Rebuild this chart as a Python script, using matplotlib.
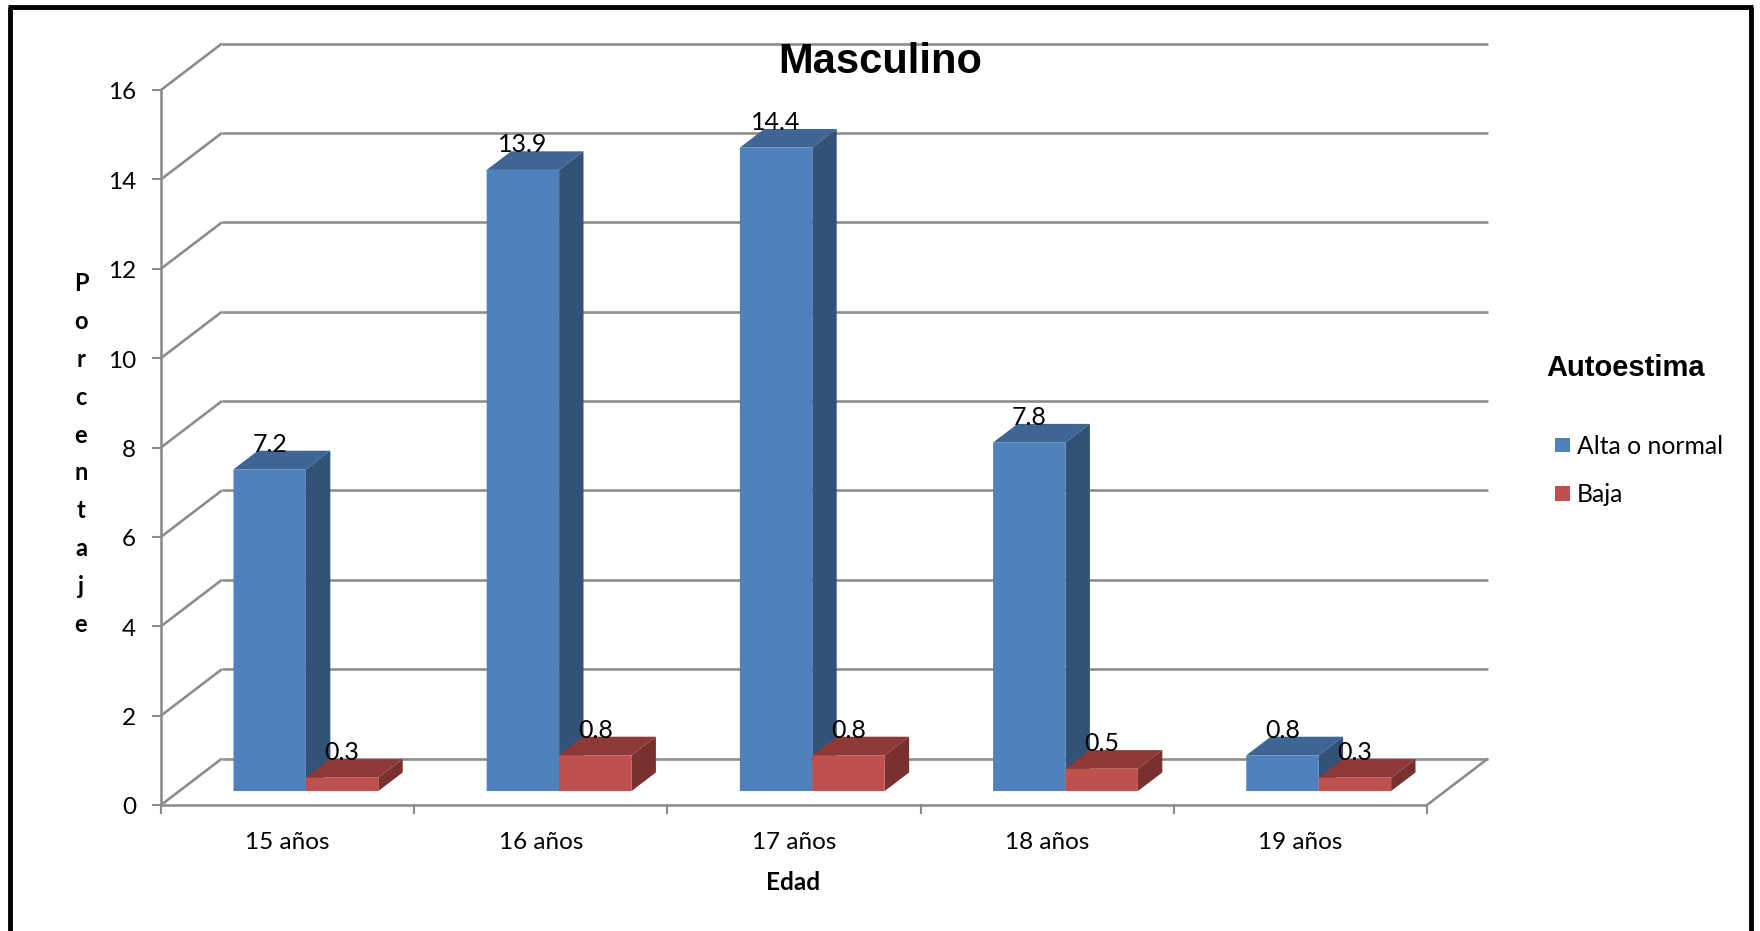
import matplotlib
matplotlib.use('Agg')
import matplotlib.pyplot as plt
from matplotlib.patches import Polygon, Rectangle

categories = ['15 años', '16 años', '17 años', '18 años', '19 años']
alta = [7.2, 13.9, 14.4, 7.8, 0.8]
baja = [0.3, 0.8, 0.8, 0.5, 0.3]
series_names = ['Alta o normal', 'Baja']
y_ticks = [0, 2, 4, 6, 8, 10, 12, 14, 16]

W, H = 1760, 931
GRAY = '#8c8c8c'
BLUE = ('#4f81bd', '#3e6593', '#325278')
RED = ('#c0504d', '#8e3937', '#7a302e')

plt.rcParams['font.family'] = ['Lato', 'DejaVu Sans']

fig = plt.figure(figsize=(W / 100, H / 100), dpi=100)
# axes box = front plane of the 3d chart, in reference pixels
ax = fig.add_axes([161 / W, 1 - 805 / H, (1427 - 161) / W, (805 - 90) / H])
ax.set_xlim(0, 5)
ax.set_ylim(0, 16)
ax.axis('off')

# oblique depth: whole wall depth expressed in data units
DX = 61 / 253.2
DY = 46.5 / 44.7


def pr(x, y, z):
    return x + z * DX, y + z * DY


def line(p, q, lw=2.6):
    ax.plot([p[0], q[0]], [p[1], q[1]], color=GRAY, lw=lw * 0.72,
            clip_on=False, solid_capstyle='butt', zorder=1)


def fx(px):
    return px / W


def fy(py):
    return 1 - py / H


for v in y_ticks:
    line(pr(0, v, 1), pr(5, v, 1))
    line(pr(0, v, 0), pr(0, v, 1))
    ax.plot([-8 / 253.2, 0], [v, v], color=GRAY, lw=1.5, clip_on=False)
    ax.text(-25 / 253.2, v - 3 / 44.7, str(v), ha='right', va='center', fontsize=17.5, color='black')

line((0, 0), (0, 16))
line((0, 0), (5, 0))
line(pr(5, 0, 0), pr(5, 0, 1))
for i in range(6):
    ax.plot([i, i], [0, -8 / 44.7], color=GRAY, lw=1.5, clip_on=False)


def bar3d(x0, w, v, cols):
    z0, z1 = 0.3, 0.7
    x1 = x0 + w
    # top and side first, the front face goes over their seam
    faces = [
        ([pr(x0, v, z0), pr(x1, v, z0), pr(x1, v, z1), pr(x0, v, z1)], cols[1]),
        ([pr(x1, 0, z0), pr(x1, 0, z1), pr(x1, v, z1), pr(x1, v, z0)], cols[2]),
        ([pr(x0, 0, z0), pr(x1, 0, z0), pr(x1, v, z0), pr(x0, v, z0)], cols[0]),
    ]
    for pts, c in faces:
        ax.add_patch(Polygon(pts, closed=True, facecolor=c, edgecolor='none', lw=0,
                             clip_on=False, zorder=2, snap=False))


bw = 0.286
for i, cat in enumerate(categories):
    x0 = i + 0.214
    bar3d(x0, bw, alta[i], BLUE)
    bar3d(x0 + bw, bw, baja[i], RED)
    ax.text(i + 0.5, -38 / 44.7, cat, ha='center', va='center', fontsize=17.5)

# data labels sit on the back edge of each bar top
for i in range(len(categories)):
    for off, v in ((0, alta[i]), (1, baja[i])):
        xc = pr(i + 0.214 + bw * off + bw / 2, 0, 0.3)[0]
        yb = pr(0, v, 0.7)[1] - 1 / 44.7
        ax.text(xc, yb, f'{v:.1f}', ha='center', va='baseline', fontsize=18, zorder=3)

# titles
fig.text(fx(880), fy(62), 'Masculino', ha='center', va='center', fontsize=30,
         fontweight='bold', family='Liberation Sans')
fig.text(fx(793), fy(882), 'Edad', ha='center', va='center', fontsize=17.5, fontweight='bold')
fig.text(fx(81), fy(454), 'P\no\nr\nc\ne\nn\nt\na\nj\ne', ha='center', va='center',
         fontsize=17, fontweight='bold', linespacing=1.78)

# legend
fig.text(fx(1546), fy(368), 'Autoestima', ha='left', va='center', fontsize=21,
         fontweight='bold', family='Liberation Sans')
for name, c, yy in zip(series_names, (BLUE[0], RED[0]), (445, 493)):
    fig.add_artist(Rectangle((fx(1555), fy(yy + 7.5)), 15 / W, 15 / H, facecolor=c,
                             edgecolor='none', transform=fig.transFigure))
    fig.text(fx(1577), fy(yy + 2), name, ha='left', va='center', fontsize=17.8)

# black frame, open at the bottom
for (xa, ya, xb, yb) in ((10, 931, 10, 6.5), (8, 6.5, 1753, 6.5), (1750.5, 6.5, 1750.5, 931)):
    fig.add_artist(plt.Line2D([fx(xa), fx(xb)], [fy(ya), fy(yb)], color='black', lw=3.5,
                              transform=fig.transFigure, solid_capstyle='butt'))

fig.savefig('out.png', dpi=100)
